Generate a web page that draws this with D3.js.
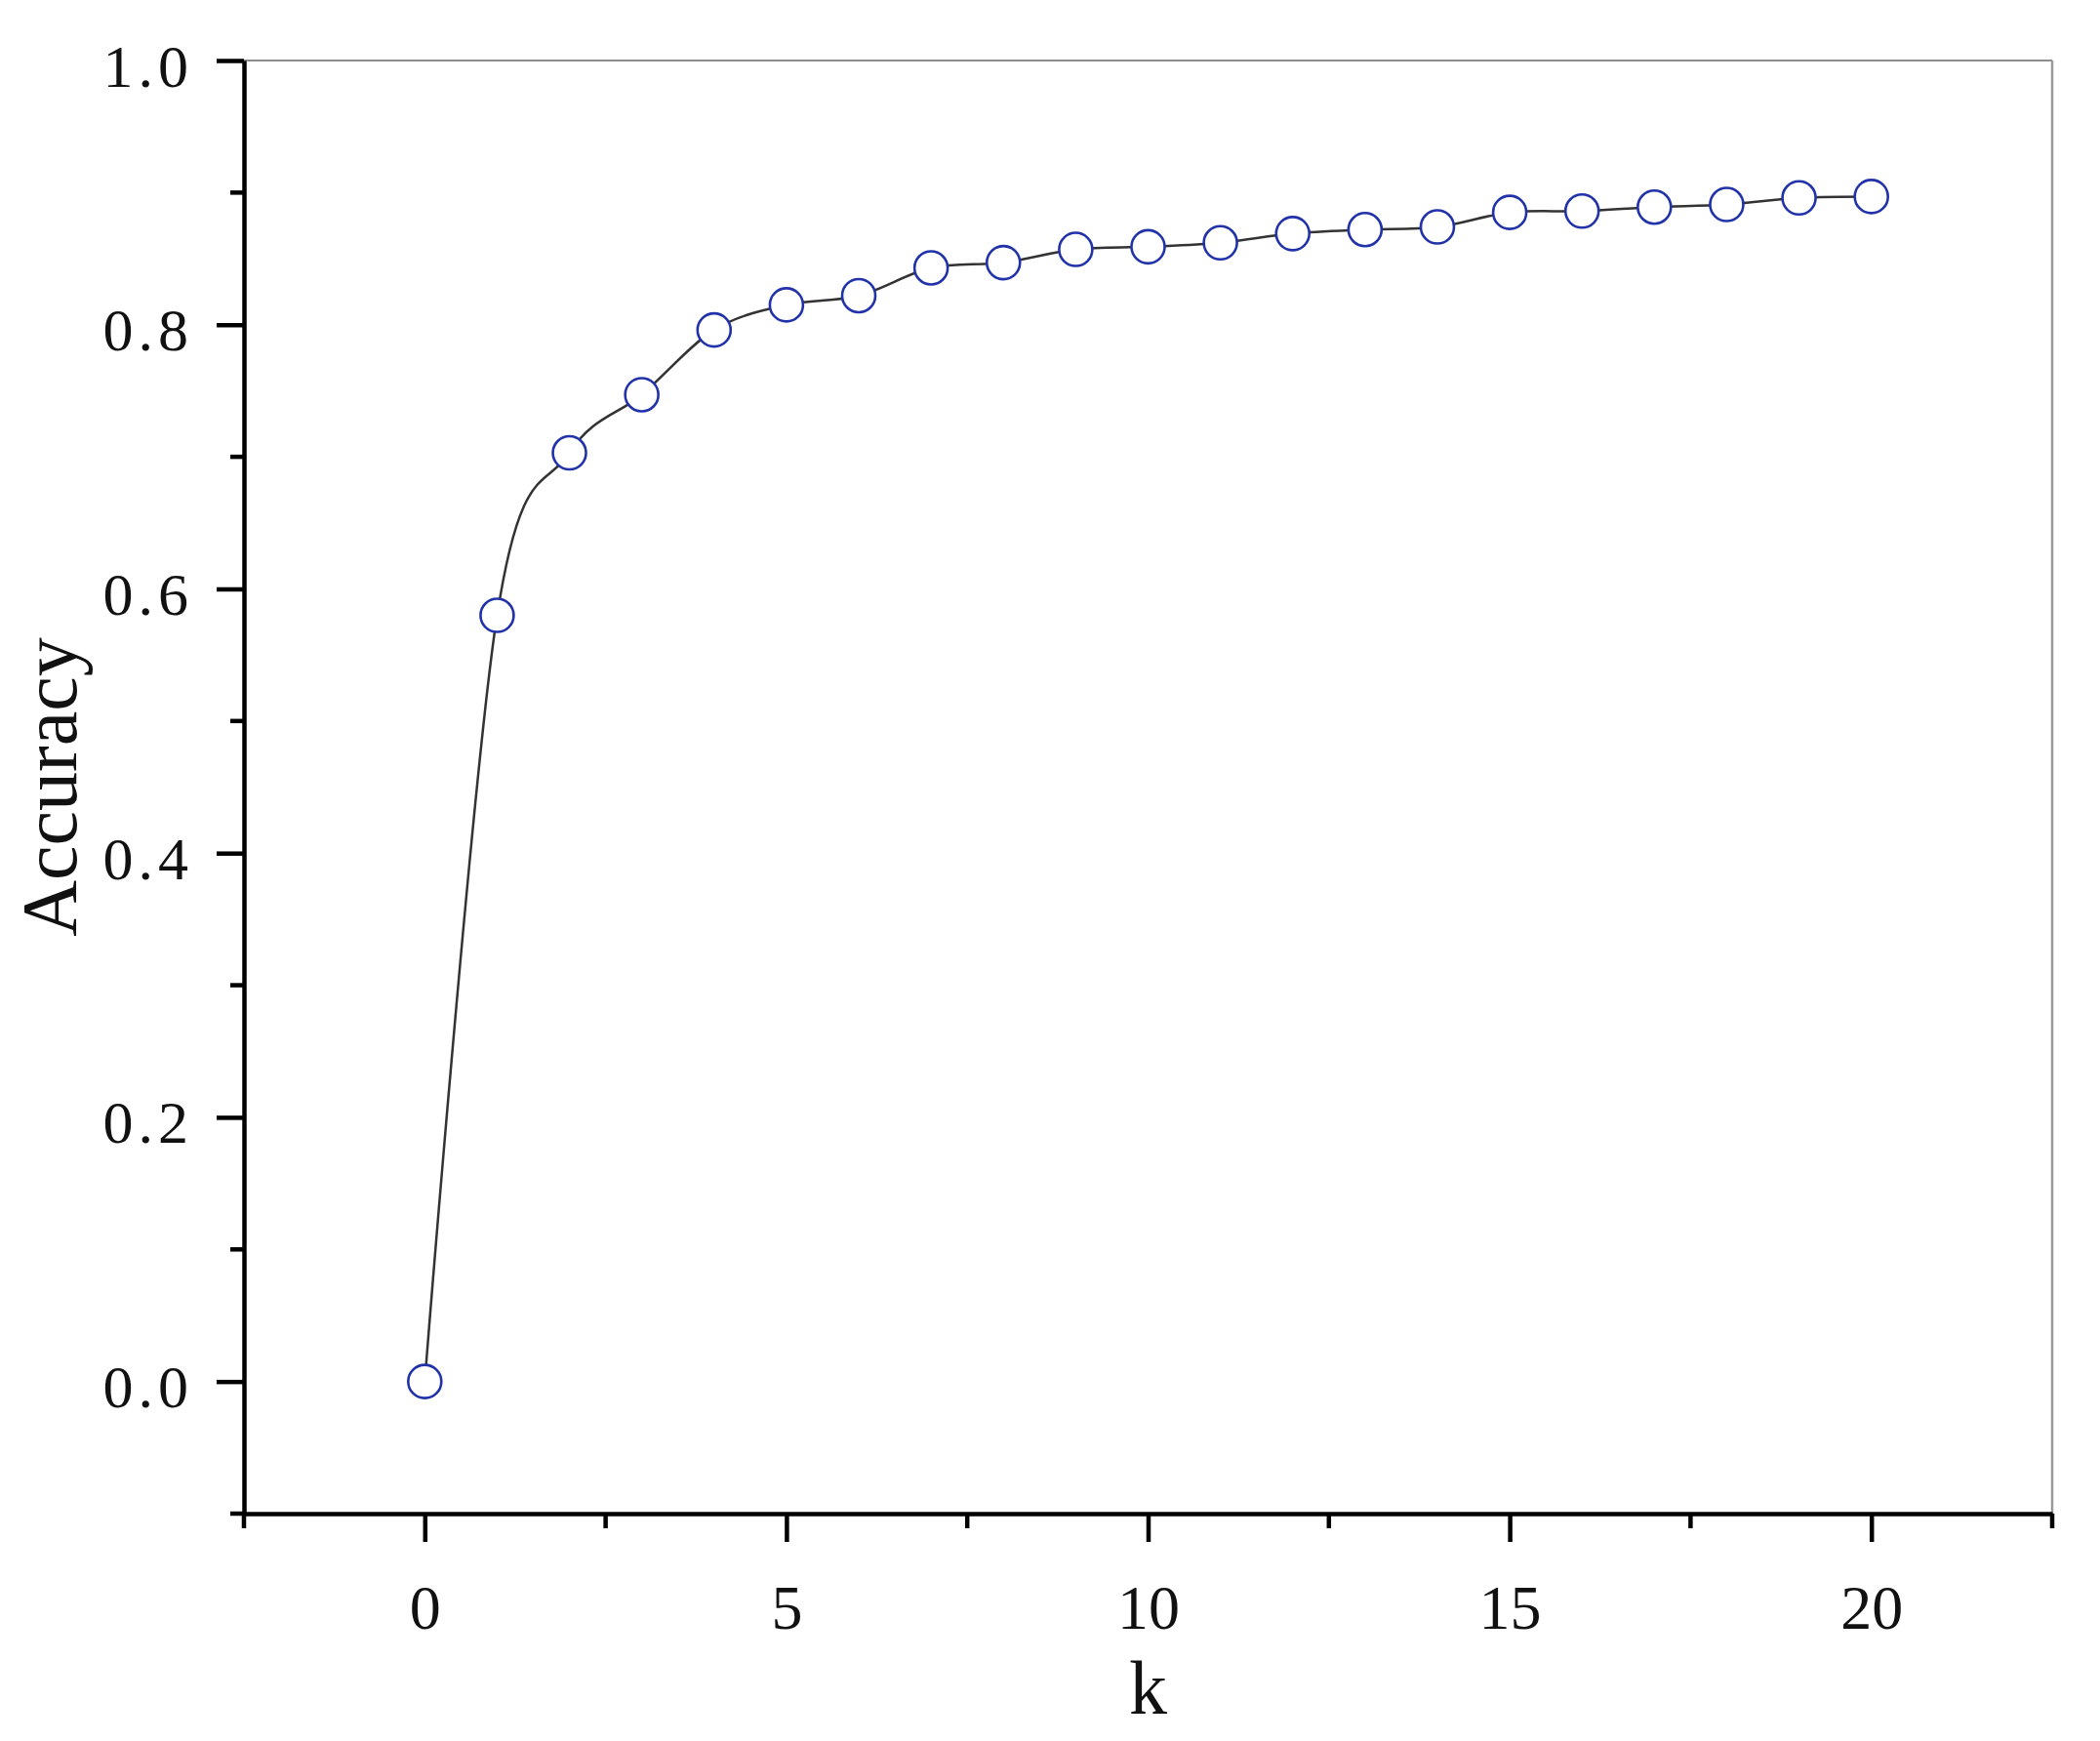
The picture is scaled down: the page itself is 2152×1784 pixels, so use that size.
<!DOCTYPE html>
<html>
<head>
<meta charset="utf-8">
<script src="https://cdn.jsdelivr.net/npm/d3@7"></script>
<style>
  html, body { margin: 0; padding: 0; background: #fff; }
  svg { display: block; }
</style>
</head>
<body>
<div id="chart"></div>
<script>
// values
var kValues = [0, 1, 2, 3, 4, 5, 6, 7, 8, 9, 10, 11, 12, 13, 14, 15, 16, 17, 18, 19, 20];
var accuracy = [0.000, 0.580, 0.703, 0.747, 0.796, 0.815, 0.822, 0.843, 0.847, 0.857, 0.859,
                0.862, 0.869, 0.872, 0.874, 0.885, 0.886, 0.889, 0.891, 0.896, 0.897];
var xMajorTicks = [0, 5, 10, 15, 20];
var xMinorTicks = [-2.5, 2.5, 7.5, 12.5, 17.5, 22.5];
var yMajorTicks = [0.0, 0.2, 0.4, 0.6, 0.8, 1.0];
var yMinorTicks = [-0.1, 0.1, 0.3, 0.5, 0.7, 0.9];

function draw() {
    var width = 2152, height = 1784;
    var margin = {top: 62, right: 49, bottom: 233, left: 250};

    var svg = d3.select("#chart")
        .append("svg")
        .attr("width", width)
        .attr("height", height);

    var x = d3.scaleLinear()
        .domain([-2.5, 22.5])
        .range([margin.left, width - margin.right]);

    var y = d3.scaleLinear()
        .domain([-0.1, 1.0])
        .range([height - margin.bottom, margin.top]);

    var serif = "'Liberation Serif', 'DejaVu Serif', serif";

    // thin grey frame on top and right
    svg.append("line")
        .attr("x1", x(-2.5)).attr("x2", x(22.5))
        .attr("y1", y(1.0)).attr("y2", y(1.0))
        .attr("stroke", "#8c8c8c").attr("stroke-width", 2);
    svg.append("line")
        .attr("x1", x(22.5)).attr("x2", x(22.5))
        .attr("y1", y(1.0)).attr("y2", y(-0.1))
        .attr("stroke", "#9a9a9a").attr("stroke-width", 2.5);

    // bottom axis
    var xAxis = g => g.attr("transform", `translate(0,${y(-0.1)})`)
        .call(d3.axisBottom(x).tickValues(xMajorTicks).tickSize(29).tickPadding(44)
              .tickSizeOuter(0).tickFormat(d3.format("d")))
        .call(g => g.select(".domain").attr("stroke-width", 4.5).attr("stroke", "#000"))
        .call(g => g.selectAll(".tick line").attr("stroke-width", 4.5))
        .call(g => g.selectAll(".tick text")
              .attr("font-family", serif).attr("font-size", 64).attr("fill", "#111"));

    svg.append("g").call(xAxis);

    svg.append("g")
        .attr("transform", `translate(0,${y(-0.1)})`)
        .selectAll("line")
        .data(xMinorTicks)
        .enter().append("line")
        .attr("x1", d => x(d)).attr("x2", d => x(d))
        .attr("y1", 0).attr("y2", 15)
        .attr("stroke", "#000").attr("stroke-width", 4.5);

    // left axis
    var yAxis = g => g.attr("transform", `translate(${x(-2.5)},0)`)
        .call(d3.axisLeft(y).tickValues(yMajorTicks).tickSize(28).tickPadding(24)
              .tickSizeOuter(0).tickFormat(d3.format(".1f")))
        .call(g => g.select(".domain").attr("stroke-width", 4.5).attr("stroke", "#000"))
        .call(g => g.selectAll(".tick line").attr("stroke-width", 4.5))
        .call(g => g.selectAll(".tick text")
              .attr("font-family", serif).attr("font-size", 62)
              .attr("letter-spacing", "5px").attr("dy", "0.42em").attr("fill", "#111"));

    svg.append("g").call(yAxis);

    svg.append("g")
        .attr("transform", `translate(${x(-2.5)},0)`)
        .selectAll("line")
        .data(yMinorTicks)
        .enter().append("line")
        .attr("x1", 0).attr("x2", -14)
        .attr("y1", d => y(d)).attr("y2", d => y(d))
        .attr("stroke", "#000").attr("stroke-width", 4.5);

    // axis titles
    svg.append("text")
        .attr("x", (x(-2.5) + x(22.5)) / 2)
        .attr("y", 1756)
        .attr("text-anchor", "middle")
        .attr("font-family", serif).attr("font-size", 78).attr("fill", "#111")
        .text("k");

    svg.append("text")
        .attr("transform", `translate(78,${(y(1.0) + y(-0.1)) / 2}) rotate(-90)`)
        .attr("text-anchor", "middle")
        .attr("font-family", serif).attr("font-size", 80).attr("fill", "#111")
        .text("Accuracy");

    // data line and markers
    var data = kValues.map((k, i) => ({k: k, acc: accuracy[i]}));

    var line = d3.line()
        .x(d => x(d.k))
        .y(d => y(d.acc))
        .curve(d3.curveCatmullRom.alpha(0));

    svg.append("path")
        .datum(data)
        .attr("d", line)
        .attr("fill", "none")
        .attr("stroke", "#333")
        .attr("stroke-width", 2.5);

    svg.append("g")
        .selectAll("circle")
        .data(data)
        .enter().append("circle")
        .attr("cx", d => x(d.k))
        .attr("cy", d => y(d.acc))
        .attr("r", 17)
        .attr("fill", "#fff")
        .attr("stroke", "#2233aa")
        .attr("stroke-width", 2.6);
}

window.onload = draw;
</script>
</body>
</html>
